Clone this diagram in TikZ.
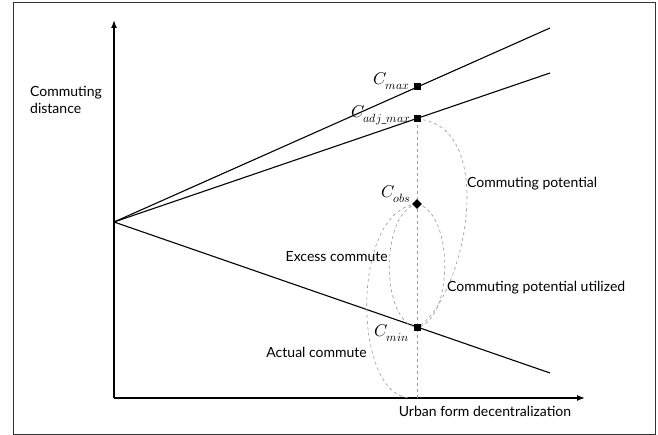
\documentclass[tikz,border=0pt]{standalone}
\usepackage{fontspec}
\usepackage{unicode-math}
\setmainfont{Lato}
\setmathfont{latinmodern-math.otf}
\usetikzlibrary{arrows.meta,shapes.geometric}
\tikzset{
  axis/.style={line width=1.5pt,-{Latex[length=8pt,width=6pt]}},
  trend/.style={line width=1.1pt},
  guide/.style={gray!80,dashed,line width=0.6pt},
  sqmark/.style={rectangle,fill=black,inner sep=0pt,minimum size=7pt},
  dmmark/.style={diamond,fill=black,inner sep=0pt,minimum size=10pt},
  lbl/.style={inner sep=1pt,font=\fontsize{14}{17}\selectfont},
  mlbl/.style={inner sep=1pt,font=\fontsize{17}{20}\selectfont,anchor=base east}
}
\begin{document}
\begin{tikzpicture}[x=1pt,y=-1pt]
\useasboundingbox (0,0) rectangle (658,435);
\draw[line width=1pt,black!80] (13,3) rectangle (655,434);
\coordinate (orig) at (114,398);
\coordinate (ytop) at (114,20);
\coordinate (xend) at (585,398);
\coordinate (start) at (114,222);
\coordinate (maxend) at (550,28);
\coordinate (adjend) at (550,73);
\coordinate (minend) at (550,373);
\coordinate (foot) at (417,398);
\coordinate (afoot) at (411,398);
\coordinate (pmax) at (417,86.5);
\coordinate (padj) at (417,119);
\coordinate (pobs) at (417,204);
\coordinate (pmin) at (417,327.5);
\draw[axis] (orig) -- (ytop);
\draw[axis] (orig) -- (xend);
\draw[trend] (start) -- (maxend);
\draw[trend] (start) -- (adjend);
\draw[trend] (start) -- (minend);
\draw[guide] (padj) -- (foot);
\draw[guide] (padj) .. controls (500,125) and (465,300) .. (pmin);
\draw[guide] (pobs) .. controls (454,212) and (454,320) .. (pmin);
\draw[guide] (pobs) .. controls (380,212) and (380,322) .. (pmin);
\draw[guide] (pobs) .. controls (350,210) and (352,398) .. (afoot);
\node[sqmark] (cmax) at (pmax){};
\node[sqmark] (cadj) at (padj){};
\node[dmmark] (cobs) at (pobs){};
\node[sqmark] (cmin) at (pmin){};
\node[mlbl] (lmax) at (411,85){$C_{max}$};
\node[mlbl] (ladj) at (412,118){$C_{adj\_max}$};
\node[mlbl] (lobs) at (412,198){$C_{obs}$};
\node[mlbl] (lmin) at (410,337){$C_{min}$};
\node[lbl,anchor=west,align=left] (ylab) at (29,100){Commuting\\distance};
\node[lbl] (xlab) at (485,411){Urban form decentralization};
\node[lbl,anchor=west] (pot) at (466,184){Commuting potential};
\node[lbl,anchor=west] (potu) at (446,288){Commuting potential utilized};
\node[lbl,anchor=east] (excess) at (389,257){Excess commute};
\node[lbl,anchor=east] (actual) at (368,352){Actual commute};
\end{tikzpicture}
\end{document}
